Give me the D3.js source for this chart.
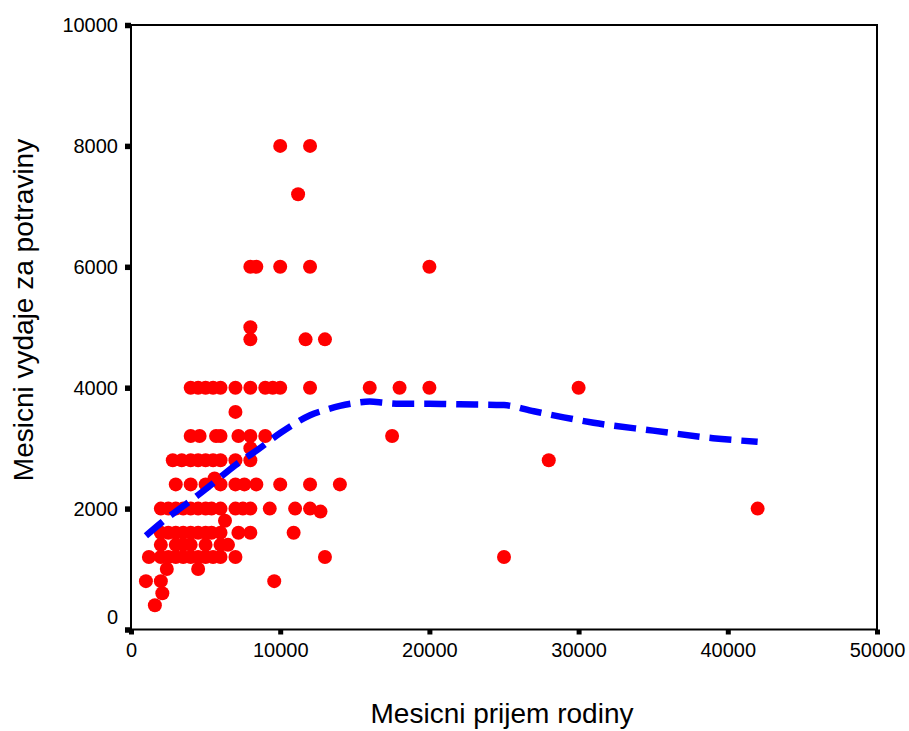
<!DOCTYPE html>
<html>
<head>
<meta charset="utf-8">
<script src="https://cdn.jsdelivr.net/npm/d3@7"></script>
<style>
  body { margin: 0; background: #fff; }
  svg { display: block; }
  text { font-family: "Liberation Sans", Arial, sans-serif; }
</style>
</head>
<body>
<svg id="chart" width="909" height="731"></svg>
<script>
// family income (x) and food spending (y)
const income = [
  4000, 4500, 5000, 5500, 6000, 7000, 8000, 9000, 9500, 10000, 12000, 16000, 18000, 20000, 30000,
  7000,
  4000, 4600, 5700, 6000, 7200, 8000, 9000, 17500,
  8000,
  2800, 3400, 4000, 4500, 5000, 5500, 6000, 7000, 8000, 28000,
  5600,
  3000, 4000, 5000, 6000, 7000, 7600, 8400, 10000, 12000, 14000,
  2000, 2500, 3000, 3500, 4000, 4500, 5000, 5400, 6000, 7000, 7500, 8000, 9300, 11000, 12000, 42000,
  12700,
  6300,
  2000, 2500, 3000, 3500, 4000, 4500, 5000, 5400, 6000, 7200, 8000, 10900,
  2000, 3000, 3500, 4000, 5000, 6000, 6500,
  1200, 2000, 2500, 3000, 3500, 4000, 4500, 5000, 5500, 6000, 7000, 13000, 25000,
  2400, 4500,
  1000, 2000, 9600,
  2100,
  1600,
  10000, 12000,
  11200,
  8000, 8400, 10000, 12000, 20000,
  8000,
  8000, 11700, 13000
];
const spending = [
  4000, 4000, 4000, 4000, 4000, 4000, 4000, 4000, 4000, 4000, 4000, 4000, 4000, 4000, 4000,
  3600,
  3200, 3200, 3200, 3200, 3200, 3200, 3200, 3200,
  3000,
  2800, 2800, 2800, 2800, 2800, 2800, 2800, 2800, 2800, 2800,
  2500,
  2400, 2400, 2400, 2400, 2400, 2400, 2400, 2400, 2400, 2400,
  2000, 2000, 2000, 2000, 2000, 2000, 2000, 2000, 2000, 2000, 2000, 2000, 2000, 2000, 2000, 2000,
  1950,
  1800,
  1600, 1600, 1600, 1600, 1600, 1600, 1600, 1600, 1600, 1600, 1600, 1600,
  1400, 1400, 1400, 1400, 1400, 1400, 1400,
  1200, 1200, 1200, 1200, 1200, 1200, 1200, 1200, 1200, 1200, 1200, 1200, 1200,
  1000, 1000,
  800, 800, 800,
  600,
  400,
  8000, 8000,
  7200,
  6000, 6000, 6000, 6000, 6000,
  5000,
  4800, 4800, 4800
];

// smoothed (loess) fit line
const fitIncome = [1000, 2000, 3000, 4000, 4500, 5500, 7000, 8500, 10000, 11000, 12000, 13000, 14000,
  15000, 16000, 17000, 18000, 20000, 22000, 25000, 27000, 29000, 31000, 35000, 39000, 42000];
const fitSpending = [1550, 1760, 1950, 2130, 2225, 2420, 2720, 2975, 3250, 3410, 3545, 3630, 3700,
  3745, 3770, 3750, 3735, 3735, 3725, 3712, 3610, 3510, 3420, 3290, 3165, 3105];

const xTicks = [0, 10000, 20000, 30000, 40000, 50000];
const yTicks = [0, 2000, 4000, 6000, 8000, 10000];

const margin = {left: 131, right: 877, top: 25, bottom: 629.5};
const svg = d3.select("#chart");

const x = d3.scaleLinear().domain([0, 50000]).range([margin.left, margin.right]);
const y = d3.scaleLinear().domain([0, 10000]).range([margin.bottom, margin.top]);

// frame
svg.append("rect")
  .attr("x", margin.left)
  .attr("y", margin.top)
  .attr("width", margin.right - margin.left)
  .attr("height", margin.bottom - margin.top)
  .attr("fill", "none")
  .attr("stroke", "#000")
  .attr("stroke-width", 2);

// axes
const xAxis = svg.append("g")
  .attr("transform", `translate(0,${margin.bottom})`)
  .call(d3.axisBottom(x).tickValues(xTicks).tickFormat(d3.format("d"))
    .tickSize(5).tickSizeOuter(0).tickPadding(8.5));
xAxis.select(".domain").remove();
xAxis.selectAll("line").attr("stroke-width", 5);
xAxis.selectAll("text").attr("font-size", "20px").attr("font-family", "Liberation Sans, Arial, sans-serif");

const yAxis = svg.append("g")
  .attr("transform", `translate(${margin.left},0)`)
  .call(d3.axisLeft(y).tickValues(yTicks).tickFormat(d3.format("d"))
    .tickSize(6).tickSizeOuter(0).tickPadding(7));
yAxis.select(".domain").remove();
yAxis.selectAll("line").attr("stroke-width", 5.5);
yAxis.selectAll("text").attr("font-size", "20px").attr("font-family", "Liberation Sans, Arial, sans-serif");
// the zero label sits a bit higher so it does not clash with the x axis
yAxis.selectAll(".tick").filter(d => d === 0).select("text").attr("dy", "-0.28em");

// points
const points = income.map((v, i) => ({inc: v, sp: spending[i]}));
svg.append("g")
  .selectAll("circle")
  .data(points)
  .enter().append("circle")
  .attr("cx", d => x(d.inc))
  .attr("cy", d => y(d.sp))
  .attr("r", 7)
  .attr("fill", "#ff0000");

// fit line
const fit = fitIncome.map((v, i) => ({inc: v, sp: fitSpending[i]}));
const line = d3.line()
  .x(d => x(d.inc))
  .y(d => y(d.sp))
  .curve(d3.curveMonotoneX);

svg.append("path")
  .datum(fit)
  .attr("d", line)
  .attr("fill", "none")
  .attr("stroke", "#0000ff")
  .attr("stroke-width", 6.5)
  .attr("stroke-dasharray", "22,10");

// axis titles
svg.append("text")
  .attr("x", 502)
  .attr("y", 723)
  .attr("text-anchor", "middle")
  .attr("font-size", "28px")
  .text("Mesicni prijem rodiny");

svg.append("text")
  .attr("transform", "translate(33,310) rotate(-90)")
  .attr("text-anchor", "middle")
  .attr("font-size", "28px")
  .text("Mesicni vydaje za potraviny");
</script>
</body>
</html>
